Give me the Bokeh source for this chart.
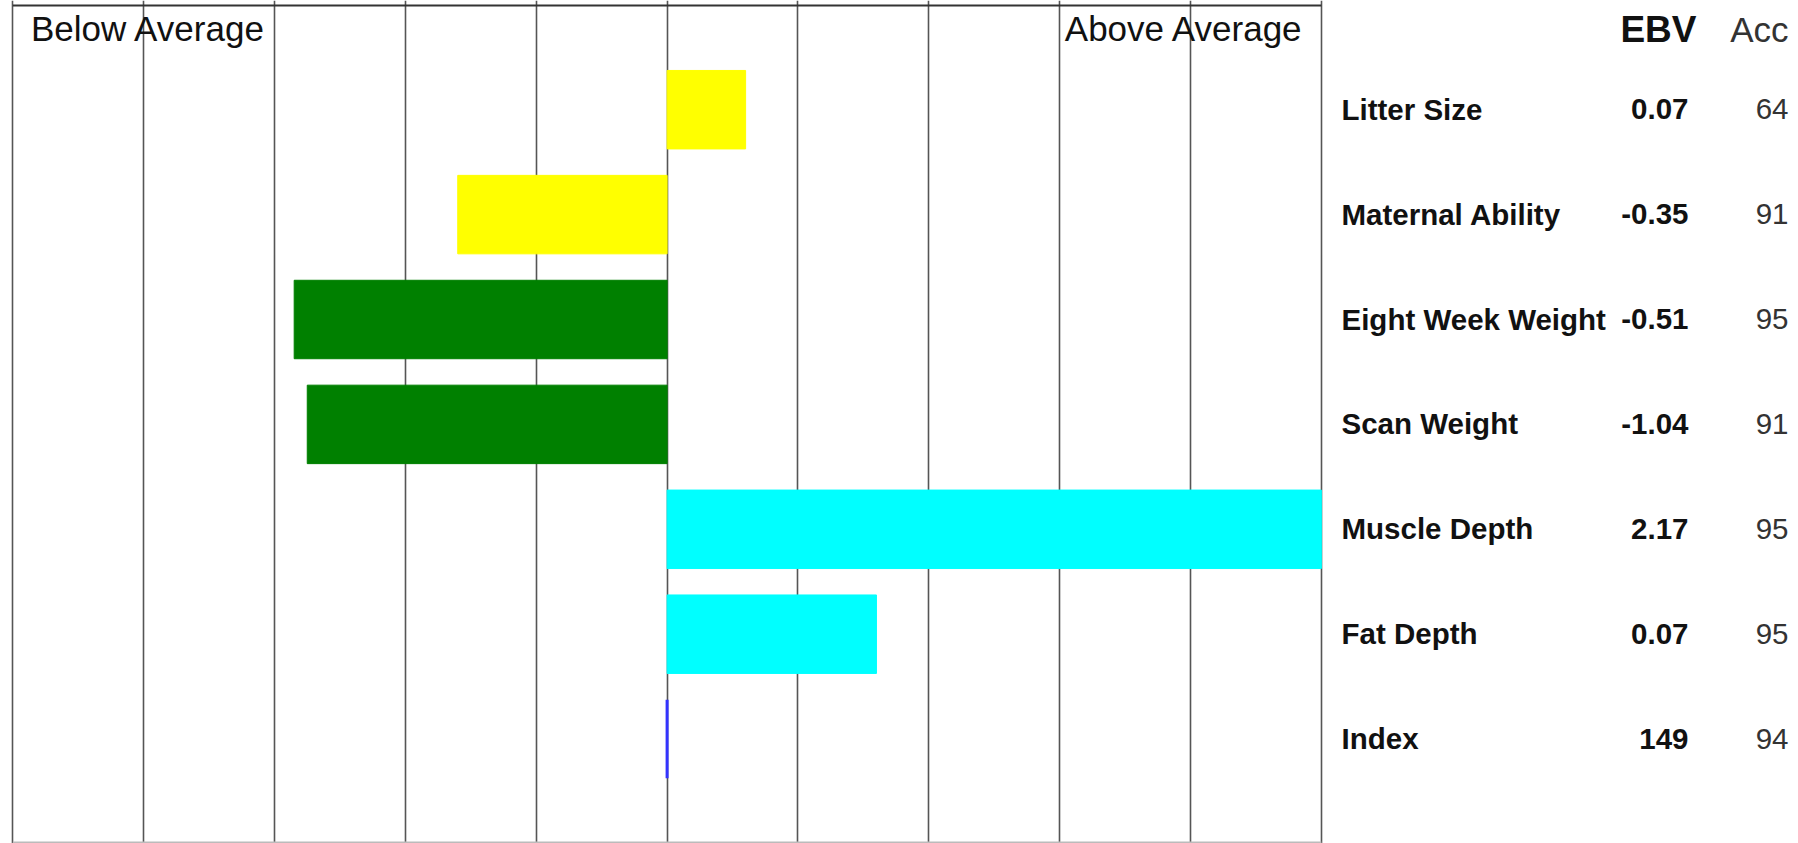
from bokeh.plotting import figure
from bokeh.models import Range1d, FixedTicker, ColumnDataSource
from bokeh.core.properties import value
from bokeh.embed import file_html
from bokeh.resources import INLINE

# ---- data ----
traits = ["Litter Size", "Maternal Ability", "Eight Week Weight", "Scan Weight",
          "Muscle Depth", "Fat Depth", "Index"]
ebv = ["0.07", "-0.35", "-0.51", "-1.04", "2.17", "0.07", "149"]
acc = ["64", "91", "95", "91", "95", "95", "94"]
# bar length in grid units (standardised score)
scores = [0.60, -1.60, -2.85, -2.75, 5.0, 1.60, 0.0]
bar_colors = ["#FFFF00", "#FFFF00", "#008000", "#008000", "#00FFFF", "#00FFFF", "#3333FF"]
grid_ticks = list(range(-5, 6))

# ---- layout helpers (page pixel -> data) ----
W, H = 1798, 843
OFF = 0  # page offset of canvas
UNIT_X = 130.85
X0_PAGE = 666.6
UNIT_Y = 104.9
ROW1_PAGE = 109.2


def xd(px):
    return (px - X0_PAGE) / UNIT_X


def yd(py):
    return 1 + (py - ROW1_PAGE) / UNIT_Y


rows = list(range(1, len(traits) + 1))
FONT = "Liberation Sans"

p = figure(width=W, height=H, output_backend="svg", toolbar_location=None,
           x_range=Range1d(xd(OFF), xd(OFF + W)),
           y_range=Range1d(yd(OFF + H), yd(OFF)),
           min_border=0, min_border_left=0, min_border_right=0,
           min_border_top=0, min_border_bottom=0)
p.outline_line_color = None
p.xaxis.visible = False
p.yaxis.visible = False
p.ygrid.grid_line_color = None
p.xgrid.ticker = FixedTicker(ticks=grid_ticks)
p.xgrid.grid_line_color = "#555555"
p.xgrid.grid_line_width = 1.6
p.background_fill_color = "white"
p.border_fill_color = "white"

# top and bottom border
p.segment(x0=[grid_ticks[0]] * 2, x1=[grid_ticks[-1]] * 2, y0=[yd(5), yd(842)],
          y1=[yd(5), yd(842)], line_color=["#333333", "#bbbbbb"], line_width=2)

src = ColumnDataSource(dict(y=rows, right=scores, color=bar_colors,
                            lw=[1 if s != 0 else 3 for s in scores],
                            trait=traits, ebv=ebv, acc=acc,
                            ty=[r - 0.5 / UNIT_Y for r in rows]))
p.hbar(y="y", left=0, right="right", height=0.748, fill_color="color",
       line_color="color", line_width="lw", source=src)

# header texts
p.text(x=[xd(30.5)], y=[yd(28)], text=["Below Average"], text_font=value(FONT),
       text_font_size="35px", text_color="#111111", text_baseline="alphabetic",
       text_align="left")
p.text(x=[xd(1303)], y=[yd(28)], text=["Above Average"], text_font=value(FONT),
       text_font_size="35px", text_color="#111111", text_baseline="alphabetic",
       text_align="right")
p.text(x=[xd(1696)], y=[yd(28.5)], text=["EBV"], text_font=value(FONT),
       text_font_size="37px", text_font_style="bold", text_color="#111111",
       text_baseline="alphabetic", text_align="right")
p.text(x=[xd(1788)], y=[yd(28.5)], text=["Acc"], text_font=value(FONT),
       text_font_size="35px", text_color="#333333",
       text_baseline="alphabetic", text_align="right")

# table rows
p.text(x=xd(1341), y="ty", text="trait", source=src, text_font=value(FONT),
       text_font_size="29.5px", text_font_style="bold", text_color="#111111",
       text_baseline="alphabetic", text_align="left")
p.text(x=xd(1688), y="ty", text="ebv", source=src, text_font=value(FONT),
       text_font_size="29.5px", text_font_style="bold", text_color="#111111",
       text_baseline="alphabetic", text_align="right")
p.text(x=xd(1788), y="ty", text="acc", source=src, text_font=value(FONT),
       text_font_size="29.5px", text_color="#333333",
       text_baseline="alphabetic", text_align="right")

open("out.html", "w").write(file_html(p, INLINE))
